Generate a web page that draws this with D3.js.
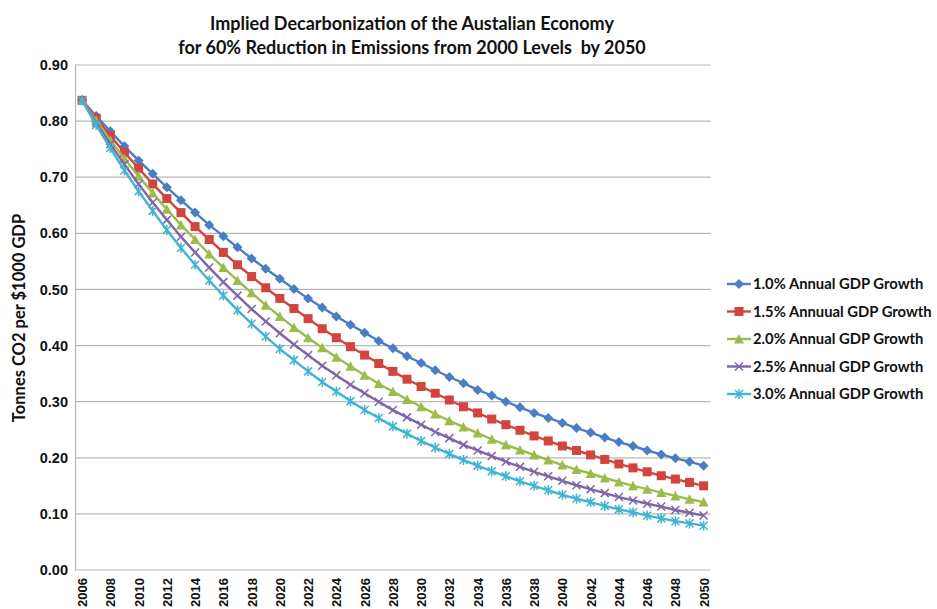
<!DOCTYPE html>
<html><head><meta charset="utf-8">
<script src="https://cdn.jsdelivr.net/npm/d3@7"></script>
<style>body{margin:0;background:#fff}svg{display:block}</style>
</head><body><svg id="c" width="937" height="609"></svg>
<script>
const years = d3.range(2006, 2051);
const yTicks = [0,0.1,0.2,0.3,0.4,0.5,0.6,0.7,0.8,0.9];
const xTickYears = d3.range(2006, 2051, 2);
const seriesNames = ["1.0% Annual GDP Growth","1.5% Annuual GDP Growth","2.0% Annual GDP Growth","2.5% Annual GDP Growth","3.0% Annual GDP Growth"];
const g10 = [0.837,0.809,0.782,0.755,0.730,0.706,0.682,0.659,0.637,0.615,0.595,0.575,0.555,0.537,0.519,0.501,0.484,0.468,0.452,0.437,0.423,0.408,0.395,0.381,0.369,0.356,0.344,0.333,0.321,0.311,0.300,0.290,0.280,0.271,0.262,0.253,0.245,0.236,0.228,0.221,0.213,0.206,0.199,0.193,0.186];
const g15 = [0.837,0.805,0.774,0.744,0.716,0.688,0.662,0.637,0.612,0.589,0.566,0.544,0.523,0.503,0.484,0.466,0.448,0.430,0.414,0.398,0.383,0.368,0.354,0.340,0.327,0.315,0.303,0.291,0.280,0.269,0.259,0.249,0.239,0.230,0.221,0.213,0.205,0.197,0.189,0.182,0.175,0.168,0.162,0.156,0.150];
const g20 = [0.837,0.801,0.766,0.733,0.702,0.672,0.643,0.615,0.589,0.563,0.539,0.516,0.494,0.472,0.452,0.432,0.414,0.396,0.379,0.363,0.347,0.332,0.318,0.304,0.291,0.278,0.266,0.255,0.244,0.233,0.223,0.214,0.205,0.196,0.187,0.179,0.172,0.164,0.157,0.150,0.144,0.138,0.132,0.126,0.121];
const g25 = [0.837,0.797,0.759,0.723,0.688,0.655,0.624,0.594,0.566,0.539,0.513,0.489,0.465,0.443,0.422,0.402,0.383,0.364,0.347,0.330,0.315,0.300,0.285,0.272,0.259,0.246,0.235,0.223,0.213,0.203,0.193,0.184,0.175,0.167,0.159,0.151,0.144,0.137,0.130,0.124,0.118,0.113,0.107,0.102,0.097];
const g30 = [0.837,0.793,0.752,0.712,0.675,0.640,0.606,0.574,0.544,0.516,0.489,0.463,0.439,0.416,0.394,0.374,0.354,0.335,0.318,0.301,0.285,0.271,0.256,0.243,0.230,0.218,0.207,0.196,0.186,0.176,0.167,0.158,0.150,0.142,0.134,0.127,0.121,0.114,0.108,0.103,0.097,0.092,0.087,0.083,0.079];

const seriesValues = [g10, g15, g20, g25, g30];
const colors = ["#4a7ec4","#d2453e","#9bbb4a","#8064a8","#42b4d2"];
const markers = ["diamond","square","triangle","cross","star"];

const svg = d3.select("#c");
const L = 75, R = 710.7, T = 65, B = 570;
const x = d3.scalePoint().domain(years).range([L, R]).padding(0.5);
const y = d3.scaleLinear().domain([0, 0.9]).range([B, T]);

svg.append("g").selectAll("line").data(yTicks.filter(d=>d>0)).join("line")
  .attr("x1", L).attr("x2", R).attr("y1", d=>y(d)).attr("y2", d=>y(d))
  .attr("stroke", "#b8b8b8").attr("stroke-width", 1.2);

const yAxis = svg.append("g").attr("transform", `translate(${L},0)`)
  .call(d3.axisLeft(y).tickValues(yTicks).tickFormat(d3.format(".2f")).tickSize(0).tickPadding(7));
yAxis.select(".domain").attr("stroke", "#b8b8b8").attr("stroke-width", 1.2);
yAxis.selectAll("text").attr("font-family", "Liberation Sans, Arial, sans-serif").attr("font-weight", "bold").attr("font-size", 14.5).attr("fill", "#111");

const xAxis = svg.append("g").attr("transform", `translate(0,${B})`)
  .call(d3.axisBottom(x).tickValues(xTickYears).tickSize(0).tickPadding(0));
xAxis.select(".domain").attr("stroke", "#b8b8b8").attr("stroke-width", 1.2).attr("d", `M${L},0H${R}`);
xAxis.selectAll("text")
  .attr("font-family", "Liberation Sans, Arial, sans-serif").attr("font-weight", "bold").attr("font-size", 13).attr("fill", "#111")
  .attr("transform", "rotate(-90)").attr("text-anchor", "end").attr("dy", "0.35em").attr("x", -8).attr("y", 0);

svg.append("text").attr("transform", "translate(25,318) rotate(-90)").attr("text-anchor", "middle")
  .attr("font-family", "Lato, sans-serif").attr("font-weight", "bold").attr("font-size", 16.5).attr("fill", "#111")
  .text("Tonnes CO2 per $1000 GDP");

const title = svg.append("text").attr("text-anchor", "middle").attr("font-family", "Lato, sans-serif").attr("font-weight", "bold").attr("font-size", 18).attr("fill", "#111");
title.append("tspan").attr("x", 412).attr("y", 30).text("Implied Decarbonization of the Austalian Economy");
title.append("tspan").attr("x", 412).attr("y", 54).attr("xml:space","preserve").text("for 60% Reduction in Emissions from 2000 Levels  by 2050");

function drawMarker(sel, type, color) {
  if (type === "diamond") sel.append("path").attr("d", "M0,-5L5,0L0,5L-5,0Z").attr("fill", color);
  else if (type === "square") sel.append("rect").attr("x", -4.5).attr("y", -4.5).attr("width", 9).attr("height", 9).attr("fill", color);
  else if (type === "triangle") sel.append("path").attr("d", "M0,-5L5,4.5L-5,4.5Z").attr("fill", color);
  else if (type === "cross") sel.append("path").attr("d", "M-4,-4L4,4M-4,4L4,-4").attr("stroke", color).attr("stroke-width", 1.5);
  else if (type === "star") sel.append("path").attr("d", "M-4,-4L4,4M-4,4L4,-4M0,-5L0,5").attr("stroke", color).attr("stroke-width", 1.5);
}

const line = d3.line().x((d,i)=>x(years[i])).y(d=>y(d));
seriesValues.forEach((vals, si) => {
  const g = svg.append("g");
  g.append("path").datum(vals).attr("d", line).attr("fill", "none").attr("stroke", colors[si]).attr("stroke-width", 2.4);
  vals.forEach((v, i) => {
    const m = g.append("g").attr("transform", `translate(${x(years[i])},${y(v)})`);
    drawMarker(m, markers[si], colors[si]);
  });
});

const leg = svg.append("g");
seriesNames.forEach((name, i) => {
  const ly = 284 + i * 27.5;
  const e = leg.append("g");
  e.append("line").attr("x1", 727).attr("x2", 751).attr("y1", ly).attr("y2", ly).attr("stroke", colors[i]).attr("stroke-width", 2.4);
  const m = e.append("g").attr("transform", `translate(739,${ly})`);
  drawMarker(m, markers[i], colors[i]);
  e.append("text").attr("x", 753).attr("y", ly).attr("dy", "0.36em")
    .attr("font-family", "Lato, sans-serif").attr("font-weight", "bold").attr("font-size", 14.8).attr("fill", "#111").text(name);
});
</script></body></html>
